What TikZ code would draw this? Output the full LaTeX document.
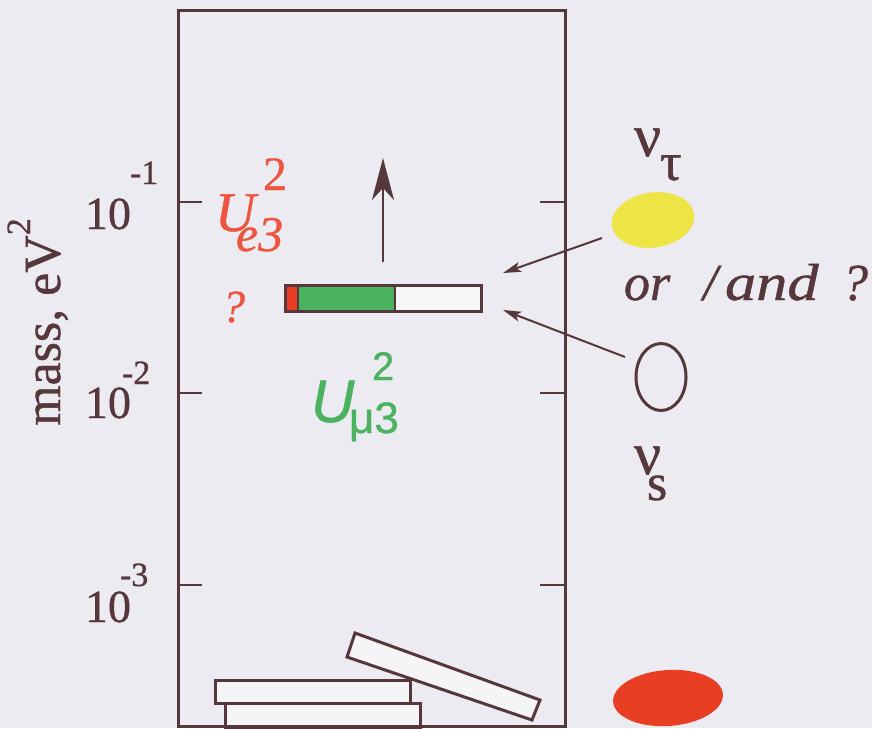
\documentclass[tikz,border=0pt]{standalone}
\usepackage{fontspec}
\setmainfont{Liberation Serif}[FakeBold=0.8]
\newfontfamily\sansf{Liberation Sans}[FakeBold=0.8]
\usetikzlibrary{arrows.meta,shapes.geometric}
\definecolor{bg}{RGB}{236,235,241}
\definecolor{ink}{RGB}{85,55,60}
\definecolor{redt}{RGB}{238,85,65}
\definecolor{redf}{RGB}{232,62,35}
\definecolor{yel}{RGB}{238,228,70}
\definecolor{grn}{RGB}{75,178,95}
\newcommand{\fs}[1]{\fontsize{#1}{#1}\selectfont}
\begin{document}
\begin{tikzpicture}[x=1pt,y=-1pt,
  frame/.style={draw=ink,line width=3pt},
  tick/.style={draw=ink,line width=2.5pt},
  lab/.style={text=ink,inner sep=0pt,outer sep=0pt,anchor=base west},
  rlab/.style={text=redt,inner sep=0pt,outer sep=0pt,anchor=base west},
  glab/.style={text=grn,inner sep=0pt,outer sep=0pt,anchor=base west},
  conn/.style={draw=ink,line width=2pt,-{Stealth[length=18pt,width=10pt,inset=4pt]}},
  blob/.style={ellipse,inner sep=0pt,outer sep=0pt}]
\fill[bg] (0,0) rectangle (872,728);
\useasboundingbox (0,0) rectangle (872,728);
% frame
\draw[frame] (178,10) rectangle (565,726);
% ticks
\foreach \yy in {202,393,585}{
  \draw[tick] (178,\yy) -- (202,\yy);
  \draw[tick] (540,\yy) -- (565,\yy);
}
% tick labels
\node[lab,font=\fs{46}] (t1) at (85,229) {10};
\node[lab,font=\fs{34}] (t1e) at (130,184) {-1};
\node[lab,font=\fs{46}] (t2) at (85,418) {10};
\node[lab,font=\fs{34}] (t2e) at (122,384) {-2};
\node[lab,font=\fs{46}] (t3) at (85,622) {10};
\node[lab,font=\fs{34}] (t3e) at (120,586) {-3};
% axis title
\node[text=ink,inner sep=0pt,anchor=base,rotate=90,font=\fs{52}] (ax) at (60,322) {mass, eV\raisebox{30pt}{\fs{34}2}};
% U_e3^2
\node[rlab,font=\fs{56}\itshape] (ue) at (215,231) {U};
\node[rlab,font=\fs{50}\itshape] (ue3) at (236,251) {e3};
\node[rlab,font=\fs{48}] (ue2) at (263,190) {2};
\node[rlab,font=\fs{46}\itshape] (uq) at (222,322) {?};
% U_mu3^2
\node[glab,font=\fs{60}\sansf\itshape] (um) at (311,422) {U};
\node[glab,font=\fs{44}\sansf] (um3) at (349,433) {μ3};
\node[glab,font=\fs{40}\sansf] (um2) at (372,380) {2};
% bar
\fill[redf] (285,285) rectangle (298,311);
\fill[grn] (298,285) rectangle (395,311);
\fill[white!60!bg] (395,285) rectangle (481,311);
\draw[ink,line width=2.5pt] (298,285) -- (298,311) (395,285) -- (395,311);
\draw[ink,line width=3pt] (285,285) rectangle (481,311);
\coordinate (barR) at (481,298);
% vertical arrow
\coordinate (va0) at (383,262);
\coordinate (va1) at (383,158);
\draw[ink,line width=2.5pt,-{Stealth[length=42pt,width=22pt,inset=12pt]}] (va0) -- (va1);
% right side
\node[blob,fill=yel,minimum width=83pt,minimum height=55pt,rotate=8] (ytau) at (653,220) {};
\node[blob,draw=ink,line width=3pt,minimum width=50pt,minimum height=67pt] (ys) at (661,377) {};
\node[blob,fill=redf,minimum width=110pt,minimum height=56pt,rotate=4] (rb) at (668,698) {};
\node[lab,font=\fs{60}] (nt) at (634,156) {ν};
\node[lab,font=\fs{54}] (nt2) at (660,180) {τ};
\node[lab,font=\fs{60}] (ns) at (634,474) {ν};
\node[lab,font=\fs{52}] (ns2) at (647,500) {s};
\node[lab,font=\fs{52}\itshape] (or) at (624,300) {or};
\node[lab,font=\fs{52}\itshape] (sl) at (703,300) {/};
\node[lab,font=\fs{52}\itshape] (and) at (725,300) {\scalebox{1.2}[1]{and}};
\node[lab,font=\fs{52}\itshape] (qq) at (842,300) {?};
% connectors
\coordinate (a1s) at (602,238);
\coordinate (a1e) at (503,273);
\coordinate (a2s) at (625,357);
\coordinate (a2e) at (503,310);
\draw[conn] (a1s) -- (a1e);
\draw[conn] (a2s) -- (a2e);
% bottom bars
\draw[ink,line width=3pt,fill=white!50!bg] (225,703) rectangle (420,728);
\draw[ink,line width=3pt,fill=white!50!bg] (215,680) rectangle (410,703);
\draw[ink,line width=3pt,fill=white!50!bg] (355,633) -- (540,700) -- (532,720) -- (347,657) -- cycle;
\draw[frame] (178,726) -- (565,726);
\end{tikzpicture}
\end{document}
